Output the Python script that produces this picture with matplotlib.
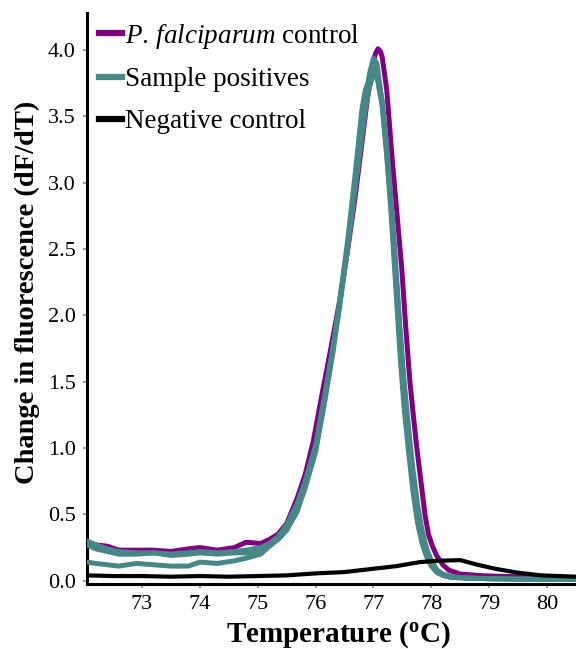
import matplotlib
matplotlib.use("Agg")
import matplotlib.pyplot as plt
from matplotlib.lines import Line2D

# ---- data ----
pf_temp = [72.05, 72.2, 72.4, 72.6, 72.9, 73.2, 73.5, 73.8, 74.0, 74.3,
           74.6, 74.8, 75.05, 75.2, 75.35, 75.5, 75.68, 75.82, 75.96, 76.1,
           76.25, 76.42, 76.55, 76.68, 76.8, 76.9, 77.0, 77.04, 77.08, 77.12,
           77.15, 77.23, 77.32, 77.4, 77.49, 77.56, 77.63, 77.7, 77.75, 77.82,
           77.89, 77.95, 78.02, 78.09, 78.2, 78.3, 78.5, 78.8, 79.0, 79.5,
           80.0, 80.5]
pf_control = [0.29, 0.27, 0.26, 0.23, 0.23, 0.23, 0.22, 0.24, 0.25, 0.23,
              0.25, 0.29, 0.28, 0.31, 0.35, 0.43, 0.62, 0.80, 1.05, 1.38,
              1.72, 2.12, 2.48, 2.88, 3.30, 3.65, 3.92, 3.98, 4.01, 3.99,
              3.95, 3.70, 3.20, 2.80, 2.35, 1.90, 1.50, 1.20, 1.00, 0.75,
              0.50, 0.35, 0.26, 0.19, 0.12, 0.08, 0.05, 0.04, 0.035, 0.03,
              0.025, 0.02]

sample_temp = [72.05, 72.2, 72.4, 72.6, 72.9, 73.2, 73.5, 73.8, 74.0, 74.3,
               74.6, 74.8, 75.05, 75.2, 75.35, 75.5, 75.68, 75.82, 76.0, 76.15,
               76.3, 76.42, 76.55, 76.68, 76.8, 76.86, 76.93, 77.0, 77.06, 77.15,
               77.23, 77.3, 77.38, 77.46, 77.53, 77.6, 77.68, 77.76, 77.84, 77.92,
               78.0, 78.1, 78.2, 78.35, 78.6, 79.0, 79.5, 80.0, 80.5]
sample_a = [0.30, 0.27, 0.24, 0.22, 0.21, 0.21, 0.20, 0.21, 0.22, 0.21,
            0.22, 0.23, 0.25, 0.28, 0.33, 0.42, 0.58, 0.75, 1.02, 1.38,
            1.76, 2.10, 2.50, 2.95, 3.40, 3.62, 3.82, 3.94, 3.90, 3.60,
            3.20, 2.80, 2.25, 1.70, 1.30, 1.00, 0.68, 0.44, 0.28, 0.18,
            0.11, 0.06, 0.04, 0.025, 0.02, 0.015, 0.012, 0.01, 0.01]
sample_b = [0.27, 0.24, 0.22, 0.20, 0.20, 0.21, 0.19, 0.20, 0.21, 0.20,
            0.21, 0.21, 0.22, 0.26, 0.32, 0.40, 0.56, 0.73, 1.00, 1.36,
            1.75, 2.12, 2.55, 3.05, 3.55, 3.70, 3.78, 3.88, 3.84, 3.62,
            3.28, 2.90, 2.42, 1.90, 1.50, 1.18, 0.85, 0.58, 0.38, 0.24,
            0.15, 0.08, 0.05, 0.03, 0.02, 0.015, 0.012, 0.01, 0.01]
sample_c = [0.14, 0.13, 0.12, 0.11, 0.13, 0.12, 0.11, 0.11, 0.14, 0.13,
            0.15, 0.17, 0.20, 0.26, 0.31, 0.38, 0.52, 0.70, 0.97, 1.33,
            1.72, 2.08, 2.50, 2.95, 3.35, 3.55, 3.72, 3.82, 3.80, 3.58,
            3.22, 2.85, 2.35, 1.85, 1.45, 1.12, 0.80, 0.52, 0.33, 0.21,
            0.13, 0.07, 0.04, 0.025, 0.02, 0.015, 0.012, 0.01, 0.01]

neg_temp = [72.05, 72.5, 73.0, 73.5, 74.0, 74.5, 75.0, 75.5, 76.0, 76.5,
            77.0, 77.4, 77.8, 78.1, 78.5, 78.8, 79.1, 79.5, 79.9, 80.2, 80.5]
neg_control = [0.04, 0.035, 0.035, 0.03, 0.035, 0.03, 0.035, 0.04, 0.055, 0.065,
               0.09, 0.11, 0.14, 0.15, 0.155, 0.12, 0.09, 0.06, 0.04, 0.035, 0.03]

x_ticks = [73, 74, 75, 76, 77, 78, 79, 80]
y_ticks = [0.0, 0.5, 1.0, 1.5, 2.0, 2.5, 3.0, 3.5, 4.0]
legend_labels = [r"$\it{P.\,falciparum}$ control", "Sample positives", "Negative control"]

# ---- style ----
plt.rcParams["font.family"] = ["Liberation Serif", "DejaVu Serif"]
plt.rcParams["mathtext.fontset"] = "custom"
plt.rcParams["mathtext.rm"] = "Liberation Serif"
plt.rcParams["mathtext.it"] = "Liberation Serif:italic"
plt.rcParams["mathtext.bf"] = "Liberation Serif:bold"

purple = "#800080"
teal = "#478787"

fig = plt.figure(figsize=(5.76, 6.49), dpi=100)
ax = fig.add_axes([87 / 576, 65 / 649, 1 - 87 / 576, (584 - 13) / 649])

lw = 3.6
ax.plot(pf_temp, pf_control, color=purple, lw=lw, solid_capstyle="round", zorder=2)
for s in (sample_c, sample_b, sample_a):
    ax.plot(sample_temp, s, color=teal, lw=lw, solid_capstyle="round", zorder=3)
ax.plot(neg_temp, neg_control, color="black", lw=3.0, zorder=4)

ax.set_xlim(72.05, 80.5)
ax.set_ylim(-0.025, 4.28)
ax.set_xticks(x_ticks)
ax.set_xticklabels([str(t) for t in x_ticks])
ax.set_yticks(y_ticks)
ax.set_yticklabels([f"{t:.1f}" for t in y_ticks])

for side in ("top", "right"):
    ax.spines[side].set_visible(False)
for side in ("left", "bottom"):
    ax.spines[side].set_linewidth(2.2)
    ax.spines[side].set_color("black")

ax.tick_params(axis="both", direction="out", length=3, width=1.2, color="#8a8a8a",
               labelsize=16, pad=5)

ax.set_xlabel(r"Temperature ($\mathbf{^o}$C)", fontsize=21, fontweight="bold")
ax.xaxis.set_label_coords(0.513, -0.062)
ax.set_ylabel("Change in fluorescence (dF/dT)", fontsize=20.5, fontweight="bold")
ax.yaxis.set_label_coords(-0.096, 0.51)

handles = [Line2D([0], [0], color=purple, lw=4.5),
           Line2D([0], [0], color=teal, lw=4.5),
           Line2D([0], [0], color="black", lw=4.5)]
leg = ax.legend(handles, legend_labels, loc="upper left", bbox_to_anchor=(0.002, 1.004),
                frameon=False, fontsize=19.5, handlelength=0.85, handletextpad=0.1,
                labelspacing=0.62, borderaxespad=0.0)

fig.savefig("out.png", dpi=100)
